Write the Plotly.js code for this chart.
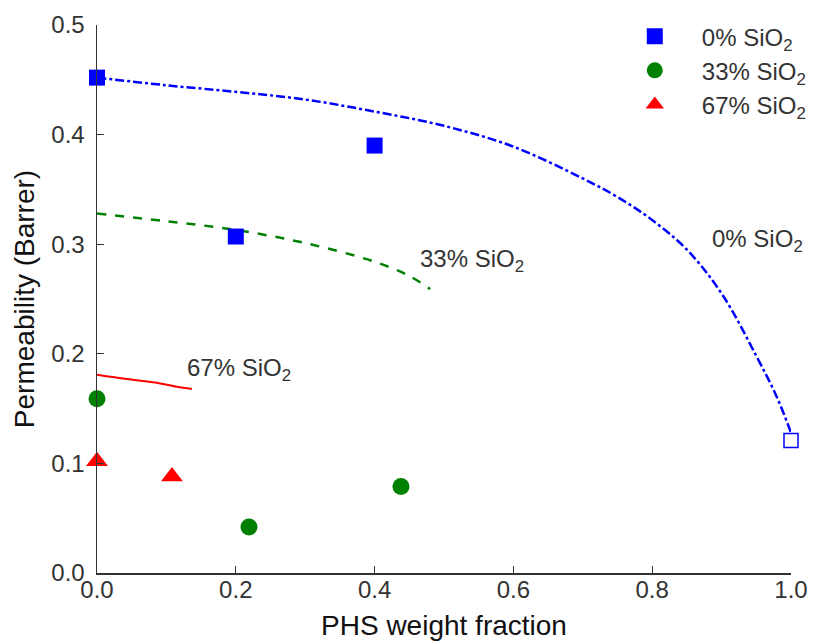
<!DOCTYPE html>
<html>
<head>
<meta charset="utf-8">
<script src="https://cdn.plot.ly/plotly-3.0.1.min.js"></script>
<style>html,body{margin:0;padding:0;background:#fff;}#chart{width:814px;height:641px;}</style>
</head>
<body>
<div id="chart"></div>
<script>
// Measured points
const sq0_x = [0.0, 0.2, 0.4];
const sq0_y = [0.452, 0.307, 0.390];
const sqOpen_x = [1.0];
const sqOpen_y = [0.121];
const c33_x = [0.0, 0.219, 0.438];
const c33_y = [0.159, 0.042, 0.079];
const t67_x = [0.0, 0.108];
const t67_y = [0.102, 0.088];

// Model curves
const curve0_x = [0.0, 0.1, 0.2, 0.3, 0.4, 0.5, 0.6, 0.7, 0.75, 0.8, 0.85, 0.9, 0.95, 0.98, 1.0];
const curve0_y = [0.452, 0.445, 0.439, 0.432, 0.421, 0.408, 0.389, 0.360, 0.343, 0.322, 0.295, 0.255, 0.198, 0.160, 0.128];
const curve33_x = [0.0, 0.1, 0.2, 0.3, 0.4, 0.45, 0.48];
const curve33_y = [0.328, 0.321, 0.313, 0.301, 0.284, 0.271, 0.259];
const curve67_x = [0.0, 0.043, 0.091, 0.115, 0.137];
const curve67_y = [0.181, 0.177, 0.173, 0.170, 0.168];

const legendNames = ['0% SiO<sub>2</sub>', '33% SiO<sub>2</sub>', '67% SiO<sub>2</sub>'];
const curveLabels = ['0% SiO<sub>2</sub>', '33% SiO<sub>2</sub>', '67% SiO<sub>2</sub>'];
const labelPos_x = [0.883, 0.4625, 0.127];
const labelPos_y = [0.303, 0.285, 0.186];

const traces = [
  {x: curve0_x, y: curve0_y, mode: 'lines', line: {color: '#0000ff', width: 2.5, dash: 'dashdot', shape: 'spline'}, showlegend: false, hoverinfo: 'skip'},
  {x: curve33_x, y: curve33_y, mode: 'lines', line: {color: '#008000', width: 2.5, dash: 'dash', shape: 'spline'}, showlegend: false, hoverinfo: 'skip'},
  {x: curve67_x, y: curve67_y, mode: 'lines', line: {color: '#ff0000', width: 2, shape: 'spline'}, showlegend: false, hoverinfo: 'skip'},
  {x: sq0_x, y: sq0_y, mode: 'markers', name: legendNames[0], marker: {symbol: 'square', size: 16, color: '#0000ff'}, cliponaxis: false},
  {x: c33_x, y: c33_y, mode: 'markers', name: legendNames[1], marker: {symbol: 'circle', size: 17, color: '#008000'}, cliponaxis: false},
  {x: t67_x, y: t67_y, mode: 'markers', name: legendNames[2], marker: {symbol: 'triangle-up', size: 19, color: '#ff0000'}, cliponaxis: false},
  {x: sqOpen_x, y: sqOpen_y, mode: 'markers', showlegend: false, marker: {symbol: 'square-open', size: 14, color: '#0000ff', line: {width: 1.5, color: '#0000ff'}}, cliponaxis: false}
];

const annotations = curveLabels.map((t, i) => ({
  x: labelPos_x[i], y: labelPos_y[i], xref: 'x', yref: 'y', text: t, showarrow: false,
  xanchor: 'left', yanchor: 'middle',
  font: {family: 'Liberation Sans, Arial, sans-serif', size: 24, color: '#333'}
}));

const layout = {
  width: 814, height: 641,
  margin: {l: 97, r: 23, t: 25, b: 68, autoexpand: false},
  paper_bgcolor: '#fff', plot_bgcolor: '#fff',
  font: {family: 'Liberation Sans, Arial, sans-serif', size: 24, color: '#333'},
  showlegend: true,
  legend: {x: 0.736, y: 1.02, xanchor: 'left', yanchor: 'top', bgcolor: 'rgba(0,0,0,0)',
           font: {size: 24, color: '#333'}, itemwidth: 84, tracegroupgap: 0},
  xaxis: {range: [0, 1], dtick: 0.2, tickformat: '.1f', showgrid: false, zeroline: false,
          showline: true, linecolor: '#333', linewidth: 1.5, ticks: 'inside', ticklen: 7, tickcolor: '#333',
          ticklabelstandoff: -5, automargin: false,
          title: {text: 'PHS weight fraction', font: {size: 28, color: '#111'}, standoff: 14},
          tickfont: {size: 24, color: '#333'}},
  yaxis: {range: [0, 0.5], dtick: 0.1, tickformat: '.1f', showgrid: false, zeroline: false,
          showline: true, linecolor: '#333', linewidth: 1.5, ticks: 'inside', ticklen: 7, tickcolor: '#333',
          ticklabelstandoff: 6, automargin: false,
          title: {text: 'Permeability (Barrer)', font: {size: 28, color: '#111'}, standoff: 8},
          tickfont: {size: 24, color: '#333'}},
  annotations: annotations
};

Plotly.newPlot('chart', traces, layout, {displayModeBar: false, staticPlot: true});
</script>
</body>
</html>
